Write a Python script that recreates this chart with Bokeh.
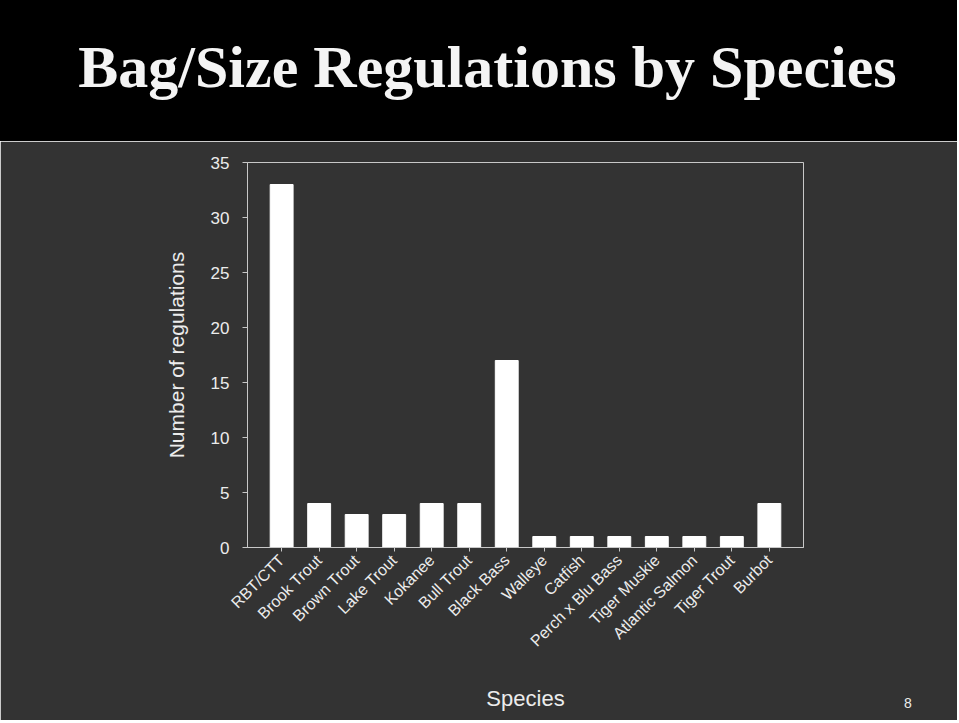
from bokeh.plotting import figure
from bokeh.layouts import column
from bokeh.models import Range1d, FixedTicker
from bokeh.core.properties import value
from bokeh.embed import file_html
from bokeh.resources import INLINE

# ---- data ----
species = ["RBT/CTT", "Brook Trout", "Brown Trout", "Lake Trout", "Kokanee",
           "Bull Trout", "Black Bass", "Walleye", "Catfish", "Perch x Blu Bass",
           "Tiger Muskie", "Atlantic Salmon", "Tiger Trout", "Burbot"]
regulations = [33, 4, 3, 3, 4, 4, 17, 1, 1, 1, 1, 1, 1, 4]
y_ticks = [0, 5, 10, 15, 20, 25, 30, 35]
title_text = "Bag/Size Regulations by Species"
x_title = "Species"
y_title = "Number of regulations"
slide_no = "8"

W = 957
TOP_H = 141
BOT_H = 579
BG = "#333333"
FG = "#ececec"
LEFT, RIGHT = 247, 154

# ---- title band ----
top = figure(width=W, height=TOP_H, x_range=Range1d(LEFT, W - RIGHT),
             y_range=Range1d(0, TOP_H), output_backend="svg",
             toolbar_location=None, min_border_left=LEFT, min_border_right=RIGHT,
             min_border_top=0, min_border_bottom=0)
top.axis.visible = False
top.grid.visible = False
top.outline_line_color = None
top.background_fill_color = "black"
top.border_fill_color = "black"
# plain black band behind the title (covers frame-edge seams)
top.quad(left=[-10], right=[W + 10], bottom=[-10], top=[TOP_H + 10],
         fill_color="black", line_color=None, level="overlay")
top.text(x=[487], y=[75], text=[title_text], text_font=value("Liberation Serif"),
         text_font_size="60px", text_font_style="bold", text_color="#f4f4f4",
         text_align="center", text_baseline="alphabetic", level="overlay")

# ---- chart ----
idx = list(range(len(species)))
p = figure(width=W, height=BOT_H, x_range=Range1d(-0.91, len(species) - 0.09),
           y_range=Range1d(0, 35), output_backend="svg", toolbar_location=None,
           min_border_left=LEFT, min_border_right=RIGHT, min_border_top=21,
           min_border_bottom=173)
p.background_fill_color = BG
p.border_fill_color = BG
p.outline_line_color = "#c8c8c8"
p.outline_line_width = 1
p.grid.visible = False

p.vbar(x=idx, top=regulations, width=0.61, bottom=0, fill_color="white",
       line_color="white")

p.yaxis.ticker = FixedTicker(ticks=y_ticks)
p.yaxis.axis_label = y_title
p.yaxis.axis_label_text_font = "Arial"
p.yaxis.axis_label_text_font_style = "normal"
p.yaxis.axis_label_text_font_size = "21px"
p.yaxis.axis_label_text_color = FG
p.yaxis.axis_label_standoff = 20
p.yaxis.major_label_text_font = "Arial"
p.yaxis.major_label_text_font_size = "17px"
p.yaxis.major_label_text_color = FG
p.yaxis.major_label_standoff = 13
p.yaxis.axis_line_color = "#c8c8c8"
p.yaxis.major_tick_line_color = "#c8c8c8"
p.yaxis.major_tick_out = 5
p.yaxis.major_tick_in = 0
p.yaxis.minor_tick_line_color = None

p.xaxis.ticker = FixedTicker(ticks=idx)
p.xaxis.major_label_overrides = {i: s for i, s in zip(idx, species)}
p.xaxis.major_label_orientation = 0.785398
p.xaxis.major_label_text_font = "Arial"
p.xaxis.major_label_text_font_size = "16px"
p.xaxis.major_label_text_color = FG
p.xaxis.major_label_standoff = 6
p.xaxis.axis_label = x_title
p.xaxis.axis_label_text_font = "Arial"
p.xaxis.axis_label_text_font_style = "normal"
p.xaxis.axis_label_text_font_size = "22px"
p.xaxis.axis_label_text_color = FG
p.xaxis.axis_label_standoff = 27
p.xaxis.axis_line_color = "#c8c8c8"
p.xaxis.major_tick_line_color = "#c8c8c8"
p.xaxis.major_tick_out = 4
p.xaxis.major_tick_in = 0
p.xaxis.minor_tick_line_color = None

p.text(x=[16.69], y=[-14.15], text=[slide_no], text_font=value("Arial"),
       text_font_size="14px", text_color=FG, text_align="center",
       text_baseline="middle", level="overlay")

layout = column(top, p, spacing=0)
open("out.html", "w").write(file_html(layout, INLINE))
